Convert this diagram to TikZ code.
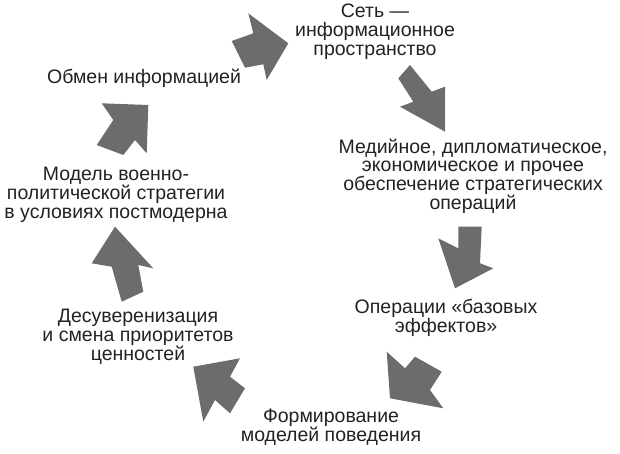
\documentclass[tikz,border=0pt]{standalone}
\usepackage{fontspec}
\setmainfont{Liberation Sans}
\definecolor{arrowgray}{RGB}{108,108,108}
\definecolor{textdark}{RGB}{34,34,34}
\tikzset{
  lbl/.style={align=center, inner sep=0pt, text=textdark,
    font=\fontsize{19.5}{18.8}\selectfont},
  blockarrow/.style={fill=arrowgray, draw=none}
}
\begin{document}
\begin{tikzpicture}[x=1pt, y=-1pt]
\useasboundingbox (0,0) rectangle (620,454);
% labels
\node[lbl] (net)   at (375,32)  {Сеть —\\информационное\\пространство};
\node[lbl] (media) at (473,176) {Медийное, дипломатическое,\\экономическое и прочее\\обеспечение стратегических\\операций};
\node[lbl] (oper)  at (446,318) {Операции «базовых\\эффектов»};
\node[lbl] (form)  at (331,427) {Формирование\\моделей поведения};
\node[lbl] (desov) at (138,337) {Десуверенизация\\и смена приоритетов\\ценностей};
\node[lbl] (model) at (116,195) {Модель военно-\\политической стратегии\\в условиях постмодерна};
\node[lbl] (obmen) at (144,78)  {Обмен информацией};
% block arrows (cycle)
\fill[blockarrow] (248.3,13.3) -- (288.3,43.3) -- (266.7,80) -- (263.3,64.3) -- (245,67.7) -- (231.7,41) -- (253.3,33.3) -- cycle;
\fill[blockarrow] (398.3,78.3) -- (410,65) -- (431.7,91.7) -- (445,86.7) -- (445,131.7) -- (400,106.7) -- (413.3,101.7) -- cycle;
\fill[blockarrow] (458.3,226.7) -- (481.7,226.7) -- (480,263.3) -- (493.3,268.3) -- (455,288.3) -- (438.3,238.3) -- (458.3,248.3) -- cycle;
\fill[blockarrow] (386.7,351.7) -- (405,368.3) -- (415,356.7) -- (441.7,371.7) -- (430,390) -- (443.3,408.3) -- (390,398.3) -- cycle;
\fill[blockarrow] (240,358.3) -- (230,376.7) -- (245,388.3) -- (230,413.3) -- (215,400) -- (203.3,421.7) -- (193.3,366.7) -- cycle;
\fill[blockarrow] (115,226.7) -- (153.3,268.3) -- (138.3,265) -- (143.3,291.7) -- (121.7,301.7) -- (111.7,266.7) -- (91.7,263.3) -- cycle;
\fill[blockarrow] (101.7,103.3) -- (148.3,105) -- (146.7,153.3) -- (135,140) -- (123.3,155) -- (96.7,145) -- (113.3,120) -- cycle;
\end{tikzpicture}
\end{document}
